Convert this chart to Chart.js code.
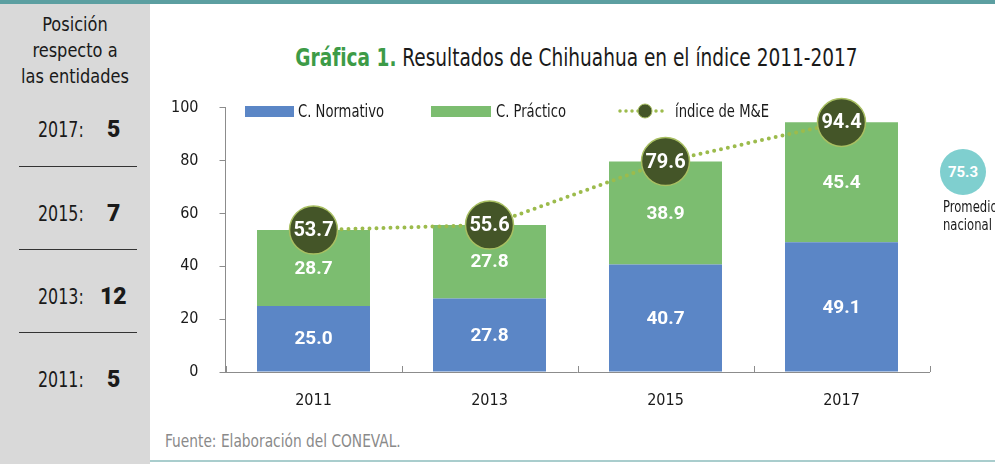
<!DOCTYPE html>
<html lang="es">
<head>
<meta charset="utf-8">
<title>Gráfica 1. Resultados de Chihuahua en el índice 2011-2017</title>
<script src="https://cdn.jsdelivr.net/npm/chart.js@4.4.1/dist/chart.umd.min.js"></script>
<style>
  body { margin: 0; width: 995px; height: 464px; overflow: hidden; background: #fff; position: relative;
         font-family: "Liberation Sans Narrow", "DejaVu Sans Condensed", sans-serif; color: #1a1a1a; }
  .barra-sup { position: absolute; left: 0; top: 0; width: 995px; height: 4px; background: #5c9fa1; }
  .panel { position: absolute; left: 0; top: 4px; width: 150px; height: 460px; background: #d9d9d9; }
  .panel .cab { position: absolute; left: 0; width: 150px; text-align: center; font-size: 20px; line-height: 24px; transform: scaleX(0.9); }
  .panel .anio { position: absolute; left: 38px; font-size: 21px; line-height: 24px; transform: scaleX(0.84); transform-origin: left; }
  .panel b { position: absolute; font-family: Roboto, "Liberation Sans", sans-serif; font-weight: 900; font-size: 23px; line-height: 24px; }
  .panel hr { position: absolute; left: 19px; width: 118px; margin: 0; border: 0; border-top: 1px solid #333; }
  .titulo { position: absolute; left: 0; width: 1153px; top: 44px; text-align: center; font-size: 24px; line-height: 28px; transform: scaleX(0.858); }
  .titulo b { color: #3d9b47; }
  #caja { position: absolute; left: 150px; top: 85px; width: 800px; height: 340px; }
  .leyenda { position: absolute; top: 102px; font-size: 17px; line-height: 18px; transform: scaleX(0.86); transform-origin: left; white-space: nowrap; }
  .sw { position: absolute; top: 106px; height: 11px; }
  .fuente { position: absolute; left: 165px; top: 430px; font-size: 18px; color: #8a8a8a; transform: scaleX(0.85); transform-origin: left; white-space: nowrap; }
  .linea-inf { position: absolute; left: 150px; top: 460px; width: 845px; height: 2px; background: #a9cdcd; }
  .prom { position: absolute; left: 940px; top: 149px; width: 46px; height: 46px; border-radius: 50%; background: #7fcfcf;
          color: #fff; font-family: Roboto, "Liberation Sans", sans-serif; font-weight: bold; font-size: 15px; line-height: 46px; text-align: center; }
  .prom-txt { position: absolute; left: 943px; top: 198px; font-size: 15px; line-height: 18px; white-space: nowrap; transform: scaleX(0.86); transform-origin: left; }
</style>
</head>
<body>
<div class="barra-sup"></div>
<div class="panel">
  <div class="cab" style="top:8px">Posición</div>
  <div class="cab" style="top:34px">respecto a</div>
  <div class="cab" style="top:60px">las entidades</div>
  <div class="anio" style="top:114px">2017:</div><b style="top:114px;left:107px">5</b>
  <hr style="top:162px">
  <div class="anio" style="top:198px">2015:</div><b style="top:198px;left:107px">7</b>
  <hr style="top:245px">
  <div class="anio" style="top:281px">2013:</div><b style="top:281px;left:100px">12</b>
  <hr style="top:328px">
  <div class="anio" style="top:364px">2011:</div><b style="top:364px;left:107px">5</b>
</div>
<div class="titulo"><b>Gráfica 1.</b> Resultados de Chihuahua en el índice 2011-2017</div>

<div id="caja"><canvas id="grafica" width="800" height="340"></canvas></div>

<div class="sw" style="left:245px;width:49px;background:#5b86c6"></div>
<div class="leyenda" style="left:298px">C. Normativo</div>
<div class="sw" style="left:431px;width:60px;background:#7cbd70"></div>
<div class="leyenda" style="left:496px">C. Práctico</div>
<svg style="position:absolute;left:617px;top:103px" width="54" height="16">
  <line x1="3" y1="8" x2="51" y2="8" stroke="#9cbb4c" stroke-width="3.5" stroke-linecap="round" stroke-dasharray="0 6"/>
  <circle cx="28" cy="8" r="7" fill="#445528" stroke="#a8bf62" stroke-width="1"/>
</svg>
<div class="leyenda" style="left:675px">índice de M&amp;E</div>

<div class="prom">75.3</div>
<div class="prom-txt">Promedio<br>nacional</div>

<div class="fuente">Fuente: Elaboración del CONEVAL.</div>
<div class="linea-inf"></div>

<script>
var anios = ["2011", "2013", "2015", "2017"];
var normativo = [25.0, 27.8, 40.7, 49.1];
var practico = [28.7, 27.8, 38.9, 45.4];
var indiceME = [53.7, 55.6, 79.6, 94.4];
var ticksY = [0, 20, 40, 60, 80, 100];

var fuenteEje = "'Liberation Sans Narrow', 'DejaVu Sans Condensed', sans-serif";

// valores dentro de barras y circulos
var etiquetas = {
    id: "etiquetas",
    afterDatasetsDraw: function (chart) {
        var ctx = chart.ctx;
        ctx.save();
        ctx.fillStyle = "#fff";
        ctx.textAlign = "center";
        ctx.textBaseline = "middle";
        chart.data.datasets.forEach(function (ds, i) {
            var meta = chart.getDatasetMeta(i);
            meta.data.forEach(function (el, j) {
                var v = ds.data[j].toFixed(1);
                if (ds.type === "line") {
                    ctx.font = "bold 20px Roboto, 'Liberation Sans', sans-serif";
                    ctx.fillText(v, el.x, el.y + 1);
                } else {
                    ctx.font = "bold 19px Roboto, 'Liberation Sans', sans-serif";
                    ctx.fillText(v, el.x, (el.y + el.base) / 2 + 1);
                }
            });
        });
        ctx.restore();
    }
};

// marcas cortas hacia arriba en el eje x
var marcasEje = {
    id: "marcasEje",
    beforeDatasetsDraw: function (chart) {
        var x = chart.scales.x, ctx = chart.ctx, y0 = chart.chartArea.bottom;
        ctx.save();
        ctx.strokeStyle = "#8c8c8c";
        ctx.lineWidth = 1;
        for (var i = 0; i <= anios.length; i++) {
            var px = Math.round(x.getPixelForValue(i - 0.5)) + 0.5;
            ctx.beginPath();
            ctx.moveTo(px, y0);
            ctx.lineTo(px, y0 - 6);
            ctx.stroke();
        }
        ctx.restore();
    }
};

new Chart(document.getElementById("grafica"), {
    type: "bar",
    data: {
        labels: anios,
        datasets: [{
            type: "line",
            label: "índice de M&E",
            data: indiceME,
            order: 0,
            borderColor: "#9cbb4c",
            borderWidth: 4,
            borderDash: [0, 7],
            borderCapStyle: "round",
            tension: 0,
            pointRadius: 24,
            pointHoverRadius: 24,
            pointBackgroundColor: "#445528",
            pointBorderColor: "#a8bf62",
            pointBorderWidth: 1.5,
            clip: false
        }, {
            label: "C. Normativo",
            data: normativo,
            order: 1,
            backgroundColor: "#5b86c6",
            categoryPercentage: 1,
            barPercentage: 0.642
        }, {
            label: "C. Práctico",
            data: practico,
            order: 2,
            backgroundColor: "#7cbd70",
            categoryPercentage: 1,
            barPercentage: 0.642
        }]
    },
    options: {
        responsive: false,
        animation: false,
        devicePixelRatio: 1,
        layout: { autoPadding: false, padding: { left: 0, right: 20.5, top: 22.6, bottom: 0 } },
        plugins: { legend: { display: false }, tooltip: { enabled: false } },
        scales: {
            x: {
                stacked: true,
                offset: true,
                afterFit: function (s) { s.height = 53; },
                border: { color: "#8c8c8c", width: 1 },
                grid: { display: false },
                ticks: { padding: 11, color: "#1a1a1a", font: { family: fuenteEje, size: 16 } }
            },
            y: {
                stacked: true,
                min: ticksY[0],
                max: ticksY[ticksY.length - 1],
                afterFit: function (s) { s.width = 75.5; s.paddingTop = 0; s.paddingBottom = 0; },
                afterBuildTicks: function (s) { s.ticks = ticksY.map(function (v) { return { value: v }; }); },
                border: { color: "#8c8c8c", width: 1 },
                grid: { drawOnChartArea: false, drawTicks: true, tickLength: 6, color: "#8c8c8c" },
                ticks: { padding: 21, color: "#1a1a1a", font: { family: fuenteEje, size: 16 } }
            }
        }
    },
    plugins: [etiquetas, marcasEje]
});
</script>
</body>
</html>
